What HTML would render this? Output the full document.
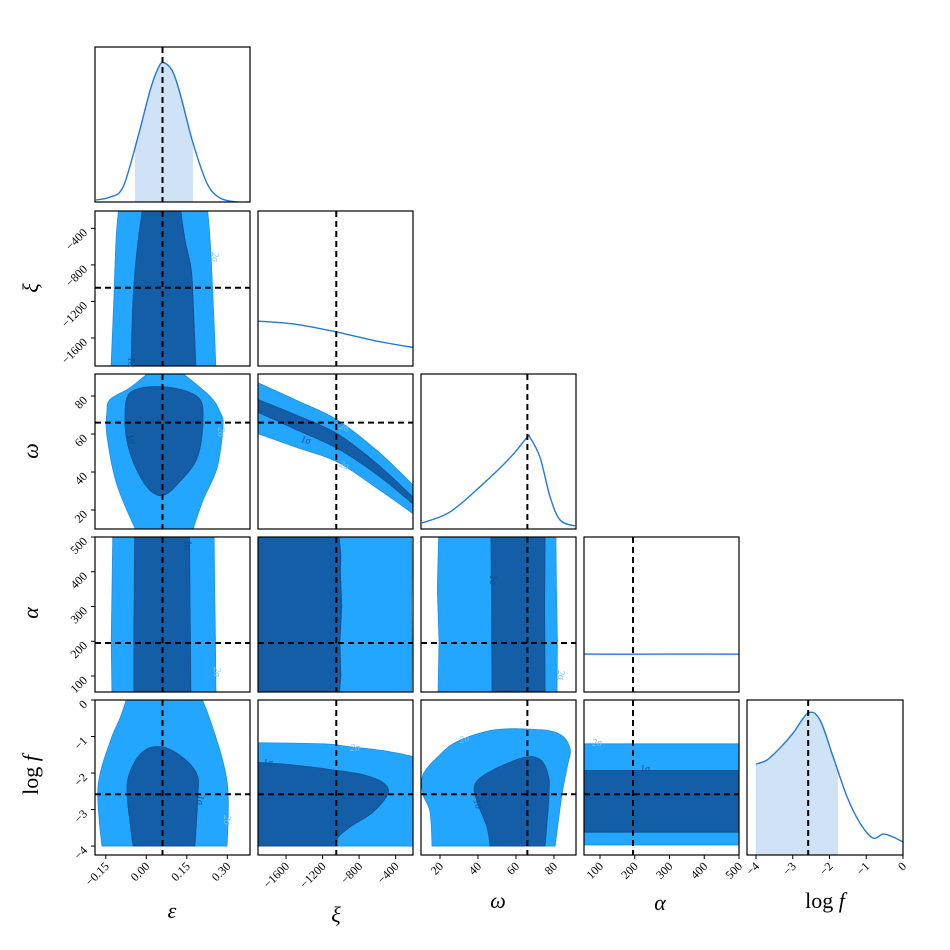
<!DOCTYPE html>
<html><head><meta charset="utf-8"><style>
html,body{margin:0;padding:0;background:#fff}
svg{display:block}
text{font-family:"Liberation Serif","DejaVu Serif",serif}
</style></head><body>
<svg id="c" width="950" height="950" viewBox="0 0 950 950" xmlns="http://www.w3.org/2000/svg"></svg>
<script>
// ---- parameter names, truths, ranges ----
const paramNames=["ε","ξ","ω","α","log f"];
const truths=[0.06,-1050,66,195,-2.58];
const ranges=[[-0.19,0.384],[-1907,-210],[10,91.6],[54,500],[-4.245,0]];
const tickVals=[[-0.15,0,0.15,0.3],[-1600,-1200,-800,-400],[20,40,60,80],[100,200,300,400,500],[-4,-3,-2,-1,0]];
const tickLabels=[["−0.15","0.00","0.15","0.30"],["−1600","−1200","−800","−400"],["20","40","60","80"],["100","200","300","400","500"],["−4","−3","−2","−1","0"]];
// ---- 1D marginals ----
const epsX=[-0.186,-0.134,-0.086,-0.034,0.014,0.043,0.062,0.095,0.125,0.173,0.225,0.273,0.336,0.384];
const epsD=[0.013,0.032,0.097,0.40,0.72,0.86,0.90,0.85,0.70,0.38,0.12,0.026,0.0,0.0];
const epsShade=[-0.042,0.173];
const xiX=[-1907,-1500,-1050,-600,-210];
const xiD=[0.29,0.27,0.22,0.16,0.12];
const omX=[10.5,25.3,42.6,56.9,65.8,67.4,72.7,77.9,83.2,91.1];
const omD=[0.039,0.11,0.29,0.46,0.59,0.59,0.46,0.21,0.058,0.019];
const alX=[54,200,350,500];
const alD=[0.245,0.244,0.245,0.244];
const lfX=[-4,-3.70,-3.35,-2.99,-2.58,-2.26,-1.90,-1.52,-1.17,-0.82,-0.54,-0.27,0];
const lfD=[0.587,0.613,0.690,0.787,0.916,0.871,0.632,0.374,0.206,0.110,0.135,0.116,0.084];
const lfShade=[-4,-1.77];
// ---- 2D contours (data coords) ----
const c_xi_eps_out=[[-0.131,-1950],[-0.12,-1167],[-0.112,-519],[-0.101,-150],[0.225,-150],[0.236,-519],[0.247,-1167],[0.258,-1950]];
const c_xi_eps_in=[[-0.057,-1950],[-0.049,-1167],[-0.034,-627],[-0.012,-150],[0.125,-150],[0.143,-519],[0.166,-843],[0.173,-1167],[0.184,-1950]];
const c_om_eps_out=[[-0.034,8],[-0.109,33.4],[-0.146,59.2],[-0.146,71.5],[-0.134,78.2],[-0.06,84.4],[0.014,93],[0.125,93],[0.236,79.8],[0.273,71.5],[0.284,64.3],[0.262,42.2],[0.21,25.2],[0.169,8]];
const c_om_eps_in=[[-0.079,66.9],[-0.06,81.8],[0.062,84.9],[0.188,79.8],[0.21,67.9],[0.188,47.3],[0.114,33.4],[0.062,27.7],[0.014,30.3],[-0.034,40.6],[-0.068,54.0]];
const c_al_eps_out=[[-0.127,40],[-0.13,200],[-0.127,350],[-0.124,515],[0.251,515],[0.253,350],[0.256,200],[0.258,40]];
const c_al_eps_in=[[-0.046,40],[-0.046,250],[-0.043,515],[0.16,515],[0.162,300],[0.165,40]];
const c_lf_eps_out=[[-0.164,-4],[-0.179,-2.39],[-0.134,-1.14],[-0.097,-0.49],[-0.068,0.15],[0.199,0.15],[0.236,-0.54],[0.284,-1.69],[0.303,-2.59],[0.299,-4]];
const c_lf_eps_in=[[-0.049,-4],[-0.071,-2.59],[-0.06,-1.96],[-0.012,-1.41],[0.058,-1.28],[0.136,-1.58],[0.188,-2.04],[0.191,-2.59],[0.18,-4]];
const c_om_xi_out=[[-1910,87.0],[-1480,77.6],[-1042,67.5],[-604,51.3],[-205,32.9],[-205,17.9],[-604,31.5],[-1042,45.4],[-1480,52.9],[-1910,60.2]];
const c_om_xi_in=[[-1910,78.2],[-1480,69.8],[-1042,60.2],[-604,44.3],[-205,26.5],[-205,22.9],[-604,38.6],[-1042,52.5],[-1480,62.1],[-1910,71.5]];
const c_al_xi_out=[[-1910,54],[-1910,505],[-225,505],[-222,400],[-226,300],[-221,200],[-224,54]];
const c_al_xi_in=[[-1910,54],[-1910,505],[-1020,505],[-1000,450],[-1005,400],[-990,300],[-1010,200],[-1000,100],[-1015,54]];
const c_lf_xi_out=[[-1910,-4],[-1910,-1.17],[-1200,-1.2],[-900,-1.28],[-500,-1.4],[-205,-1.55],[-205,-4]];
const c_lf_xi_in=[[-1910,-4],[-1910,-1.71],[-1480,-1.79],[-1042,-1.93],[-750,-2.05],[-538,-2.26],[-484,-2.56],[-648,-3.07],[-900,-3.48],[-1030,-3.76],[-1042,-4]];
const c_al_om_out=[[19.0,54],[19.5,200],[18.6,350],[19.3,505],[81.0,505],[81.3,350],[81.8,200],[81.6,54]];
const c_al_om_in=[[47.4,54],[47.2,250],[46.8,505],[75.3,505],[75.1,300],[75.3,54]];
const c_lf_om_out=[[15.8,-4],[14.7,-3.05],[11.1,-2.59],[11.1,-2.04],[20.0,-1.50],[29.0,-1.14],[46.3,-0.84],[63.7,-0.79],[81.6,-0.90],[88.4,-1.31],[86.9,-1.85],[84.2,-2.59],[80.6,-4]];
const c_lf_om_in=[[46.3,-4],[44.7,-3.48],[39.5,-2.78],[38.4,-2.31],[46.3,-1.96],[63.7,-1.58],[72.7,-1.63],[76.9,-2.04],[77.4,-2.59],[75.3,-4]];
const c_lf_al_out=[[50,-3.97],[50,-1.2],[505,-1.2],[505,-3.97]];
const c_lf_al_in=[[50,-3.62],[50,-1.93],[505,-1.93],[505,-3.62]];
const contours={"1_0":[c_xi_eps_out,c_xi_eps_in],"2_0":[c_om_eps_out,c_om_eps_in],"3_0":[c_al_eps_out,c_al_eps_in],"4_0":[c_lf_eps_out,c_lf_eps_in],
"2_1":[c_om_xi_out,c_om_xi_in],"3_1":[c_al_xi_out,c_al_xi_in],"4_1":[c_lf_xi_out,c_lf_xi_in],
"3_2":[c_al_om_out,c_al_om_in],"4_2":[c_lf_om_out,c_lf_om_in],"4_3":[c_lf_al_out,c_lf_al_in]};
// indices of sharp (panel-edge) vertices for smoothed contours: [outer, inner]
const sharp={"1_0":[[0,3,4,7],[0,3,4,8]],"2_0":[[0,6,7,13],[]],"4_0":[[0,4,5,9],[0,8]],"2_1":[[0,4,5,9],[0,4,5,9]],"4_1":[[0,1,5,6],[0,1,10]],"4_2":[[0,12],[0,9]]};
const marg=[[epsX,epsD,epsShade],[xiX,xiD,null],[omX,omD,null],[alX,alD,null],[lfX,lfD,lfShade]];

const NS="http://www.w3.org/2000/svg";
const svg=document.getElementById("c");
const colPx=[[95,250],[258,413],[421,576],[584,739],[747,903]];
const rowPx=[[47,202],[211,366],[374,529],[537,692],[700,855]];
function el(tag,attrs,parent){const e=document.createElementNS(NS,tag);for(const k in attrs)e.setAttribute(k,attrs[k]);(parent||svg).appendChild(e);return e;}
function xScale(p,c){const[lo,hi]=ranges[p];const[a,b]=colPx[c];return v=>a+(v-lo)/(hi-lo)*(b-a);}
function yScale(p,r){const[lo,hi]=ranges[p];const[a,b]=rowPx[r];return v=>b-(v-lo)/(hi-lo)*(b-a);}
function dScale(r){const[a,b]=rowPx[r];return d=>b-d*(b-a);}
function crPath(P,closed,corners){
  corners=corners||[];
  const n=P.length;let d="M"+P[0][0]+","+P[0][1];
  const g=i=>closed?P[(i+n)%n]:P[Math.max(0,Math.min(n-1,i))];
  const tan=i=>{const k=closed?(i+n)%n:i;if(corners.indexOf(k)>=0)return[0,0];const a=g(i-1),b=g(i+1);return[(b[0]-a[0])/6,(b[1]-a[1])/6];};
  const m=closed?n:n-1;
  for(let i=0;i<m;i++){const p1=g(i),p2=g(i+1),t1=tan(i),t2=tan(i+1);
    d+=" C"+(p1[0]+t1[0])+","+(p1[1]+t1[1])+" "+(p2[0]-t2[0])+","+(p2[1]-t2[1])+" "+p2[0]+","+p2[1];}
  return d+(closed?"Z":"");}
const defs=el("defs",{});
const LIGHT="#23a6ff",DARK="#135ea6",LINE="#2379d6";

for(let r=0;r<5;r++){for(let c=0;c<=r;c++){
  const[x0,x1]=colPx[c],[y0,y1]=rowPx[r];
  const cp=el("clipPath",{id:"cp"+r+c},defs);el("rect",{x:x0,y:y0,width:x1-x0,height:y1-y0},cp);
  const g=el("g",{"clip-path":"url(#cp"+r+c+")"});
  
  
  const sx=xScale(c,c);
  if(r===c){
    const[xs,ds,sh]=marg[c];const sy=dScale(r);
    const pts=xs.map((v,i)=>[sx(v),sy(ds[i])]);
    if(sh){
      const lo=sh[0],hi=sh[1];
      const cp2=el("clipPath",{id:"sh"+c},defs);el("rect",{x:sx(lo),y:y0,width:sx(hi)-sx(lo),height:y1-y0},cp2);
      const s=el("path",{d:crPath(pts,false)+" L"+pts[pts.length-1][0]+","+y1+" L"+pts[0][0]+","+y1+"Z",fill:"#d0e2f5",stroke:"#bcd5f0","stroke-width":1.2,"clip-path":"url(#sh"+c+")"},g);
      
      
    }
    const l=el("path",{d:crPath(pts,false),fill:"none",stroke:LINE,"stroke-width":1.4},g);
    
    
  } else {
    const sy=yScale(r,r);const key=r+"_"+c;
    const[outer,inner]=contours[key];
    const op=outer.map(p=>[sx(p[0]),sy(p[1])]),ip=inner.map(p=>[sx(p[0]),sy(p[1])]);
    const mk=(P,j)=>sharp[key]?crPath(P,true,sharp[key][j]):"M"+P.map(p=>p.join(",")).join(" L")+"Z";
    const po=el("path",{d:mk(op,0),fill:LIGHT,stroke:"#1f8fe0","stroke-width":0.8},g);
    
    
    const pi=el("path",{d:mk(ip,1),fill:DARK,stroke:"#0f4f8c","stroke-width":0.8},g);
    
    
    const hl=el("line",{x1:x0,x2:x1,y1:sy(truths[r]),y2:sy(truths[r]),stroke:"#000","stroke-width":2,"stroke-dasharray":"6,4"},g);
    
    
  }
  const vl=el("line",{x1:sx(truths[c]),x2:sx(truths[c]),y1:y0,y2:y1,stroke:"#000","stroke-width":2,"stroke-dasharray":"6,4"},g);
  
  
  const fr=el("rect",{x:x0,y:y0,width:x1-x0,height:y1-y0,fill:"none",stroke:"#000","stroke-width":1.2});
  
  
  if(r===4){tickVals[c].forEach((v,i)=>{const x=sx(v);
    el("line",{x1:x,x2:x,y1:y1,y2:y1+4,stroke:"#000","stroke-width":1});
    const t=el("text",{x:x+4,y:y1+12,"font-size":12,"text-anchor":"end",transform:"rotate(-45 "+(x+4)+" "+(y1+12)+")"});
    t.textContent=tickLabels[c][i];
    
    
  });}
  if(c===0&&r>0){const sy=yScale(r,r);tickVals[r].forEach((v,i)=>{const y=sy(v);
    el("line",{x1:x0-4,x2:x0,y1:y,y2:y,stroke:"#000","stroke-width":1});
    const t=el("text",{x:x0-7,y:y+5,"font-size":12,"text-anchor":"end",transform:"rotate(-45 "+(x0-7)+" "+(y+5)+")"});
    t.textContent=tickLabels[r][i];
    
    
  });}
}}
const sigLabels=[[212,257,"2σ",90,"#7cc4ff"],[128,362,"1σ",90,"#0f4f8c"],[128,440,"1σ",70,"#0f4f8c"],[218,432,"2σ",90,"#7cc4ff"],[185,545,"1σ",90,"#0f4f8c"],[214,672,"2σ",90,"#7cc4ff"],
[197,800,"1σ",90,"#0f4f8c"],[224,820,"2σ",90,"#7cc4ff"],[268,766,"1σ",0,"#0f4f8c"],[355,751,"2σ",0,"#7cc4ff"],[305,443,"1σ",15,"#0f4f8c"],[343,430,"2σ",20,"#7cc4ff"],[343,468,"2σ",20,"#7cc4ff"],
[490,580,"1σ",90,"#0f4f8c"],[558,675,"2σ",90,"#7cc4ff"],[465,742,"2σ",-15,"#7cc4ff"],[475,805,"1σ",70,"#0f4f8c"],[597,746,"2σ",0,"#7cc4ff"],[645,772,"1σ",0,"#0f4f8c"]];
sigLabels.forEach(s=>{const t=el("text",{x:s[0],y:s[1],"font-size":10,fill:s[4],"font-style":"italic","text-anchor":"middle",transform:"rotate("+s[3]+" "+s[0]+" "+s[1]+")"});t.textContent=s[2];
  
  });
const xt=[[172,918],[336,922],[498,908],[660,910],[825,908]];
xt.forEach((p,i)=>{const t=el("text",{x:p[0],y:p[1],"font-size":22,"text-anchor":"middle","font-style":i===4?"normal":"italic"});
  t.textContent=paramNames[i];if(i===4){t.innerHTML='log <tspan font-style="italic">f</tspan>';}
  
  });
const yt=[[0,0],[38,288],[38,451],[38,613],[38,775]];
for(let i=1;i<5;i++){const p=yt[i];const t=el("text",{x:p[0],y:p[1],"font-size":22,"text-anchor":"middle","font-style":i===4?"normal":"italic",transform:"rotate(-90 "+p[0]+" "+p[1]+")"});
  t.textContent=paramNames[i];if(i===4){t.innerHTML='log <tspan font-style="italic">f</tspan>';}
  
  }
</script>
</body></html>
